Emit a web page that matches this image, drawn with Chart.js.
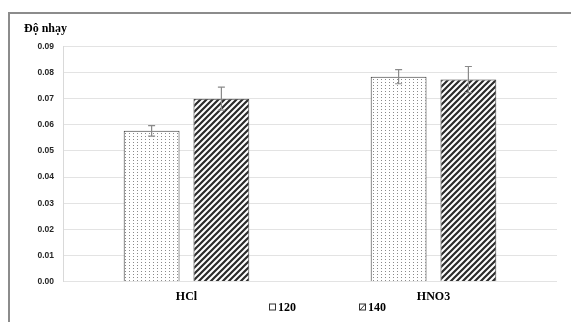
<!DOCTYPE html>
<html>
<head>
<meta charset="utf-8">
<script src="https://cdn.jsdelivr.net/npm/chart.js@4"></script>
<style>
  body { margin: 0; background: #fff; }
  #wrap { position: relative; width: 571px; height: 322px; }
  #frame { position: absolute; left: 8px; top: 12px; right: -4px; bottom: -4px;
           border-left: 2px solid #8c8c8c; border-top: 2px solid #8c8c8c; pointer-events: none; }
</style>
</head>
<body>
<div id="wrap">
  <canvas id="myChart" width="571" height="322"></canvas>
  <div id="frame"></div>
</div>
<script>
// data
const categories = ['HCl', 'HNO3'];
const seriesNames = ['120', '140'];
const values120 = [0.0577, 0.0784];
const values140 = [0.0700, 0.0773];
const errors120 = [0.0020, 0.0027];
const errors140 = [0.0044, 0.0050];
const yTicks = [0, 0.01, 0.02, 0.03, 0.04, 0.05, 0.06, 0.07, 0.08, 0.09];

// fill patterns
function dotPattern() {
  const c = document.createElement('canvas');
  c.width = 4; c.height = 3;
  const g = c.getContext('2d');
  g.fillStyle = '#fff';
  g.fillRect(0, 0, 4, 3);
  g.fillStyle = '#8a8a8a';
  g.fillRect(1, 1, 1, 1);
  return g.createPattern(c, 'repeat');
}
function hatchPattern() {
  const c = document.createElement('canvas');
  const s = 6;
  c.width = s; c.height = s;
  const g = c.getContext('2d');
  g.fillStyle = '#fff';
  g.fillRect(0, 0, s, s);
  g.strokeStyle = '#2b2b2b';
  g.lineWidth = 2.2;
  g.beginPath();
  g.moveTo(-1, s + 1); g.lineTo(s + 1, -1);
  g.moveTo(-1, 1); g.lineTo(1, -1);
  g.moveTo(s - 1, s + 1); g.lineTo(s + 1, s - 1);
  g.stroke();
  return g.createPattern(c, 'repeat');
}
const fill120 = dotPattern();
const fill140 = hatchPattern();

const ctx = document.getElementById('myChart');

// error bars
const errorBars = {
  id: 'errorBars',
  afterDatasetsDraw(chart) {
    const g = chart.ctx;
    const y = chart.scales.y;
    g.save();
    g.strokeStyle = '#8a8a8a';
    g.lineWidth = 1.2;
    chart.data.datasets.forEach((ds, i) => {
      const meta = chart.getDatasetMeta(i);
      meta.data.forEach((bar, j) => {
        const v = ds.data[j], e = ds.errors[j];
        const top = y.getPixelForValue(v + e);
        const bot = y.getPixelForValue(v - e);
        g.beginPath();
        g.moveTo(bar.x, top); g.lineTo(bar.x, bot);
        g.moveTo(bar.x - 3.5, top); g.lineTo(bar.x + 3.5, top);
        g.moveTo(bar.x - 3.5, bot); g.lineTo(bar.x + 3.5, bot);
        g.stroke();
      });
    });
    g.restore();
  }
};

// legend at the bottom
const bottomLegend = {
  id: 'bottomLegend',
  afterDraw(chart) {
    const g = chart.ctx;
    const xs = [269, 359];
    const yc = 307;
    g.save();
    g.font = 'bold 12px "Liberation Serif", "Times New Roman", serif';
    g.textBaseline = 'middle';
    chart.data.datasets.forEach((ds, i) => {
      g.fillStyle = '#fff';
      g.fillRect(xs[i], yc - 3.5, 7, 7);
      g.strokeStyle = '#333';
      g.lineWidth = 1;
      g.strokeRect(xs[i] + 0.5, yc - 3, 6, 6);
      if (i === 1) {
        g.beginPath();
        g.moveTo(xs[i] + 1, yc + 3); g.lineTo(xs[i] + 6.5, yc - 3);
        g.stroke();
      }
      g.fillStyle = '#000';
      g.fillText(ds.label, xs[i] + 9, yc + 1);
    });
    g.restore();
  }
};

new Chart(ctx, {
  type: 'bar',
  data: {
    labels: categories,
    datasets: [{
      label: seriesNames[0],
      data: values120,
      errors: errors120,
      backgroundColor: fill120,
      borderColor: '#333',
      borderWidth: 1
    }, {
      label: seriesNames[1],
      data: values140,
      errors: errors140,
      backgroundColor: fill140,
      borderColor: '#333',
      borderWidth: 1
    }]
  },
  options: {
    responsive: false,
    animation: false,
    datasets: {
      bar: { categoryPercentage: 0.565, barPercentage: 0.8 }
    },
    layout: { padding: { left: 24, right: 14, top: 14, bottom: 10 } },
    plugins: {
      legend: { display: false },
      tooltip: { enabled: false },
      title: {
        display: true,
        text: 'Độ nhạy',
        align: 'start',
        color: '#000',
        font: { family: '"Liberation Serif", "Times New Roman", serif', size: 12, weight: 'bold' },
        padding: { top: 8, bottom: 10 }
      }
    },
    scales: {
      x: {
        grid: { display: false, drawTicks: false },
        border: { display: false },
        ticks: {
          padding: 8,
          color: '#000',
          font: { family: '"Liberation Serif", "Times New Roman", serif', size: 12, weight: 'bold' }
        }
      },
      y: {
        min: 0,
        max: 0.09,
        afterFit(scale) { scale.width = 39; },
        afterBuildTicks(scale) { scale.ticks = yTicks.map(v => ({ value: v })); },
        grid: { color: '#e3e3e3', drawTicks: false },
        border: { color: '#d9d9d9' },
        ticks: {
          padding: 9,
          color: '#262626',
          font: { family: '"Liberation Sans", Arial, sans-serif', size: 8.5, weight: 'bold' },
          callback: v => v.toFixed(2)
        }
      }
    }
  },
  plugins: [errorBars, bottomLegend]
});
</script>
</body>
</html>
